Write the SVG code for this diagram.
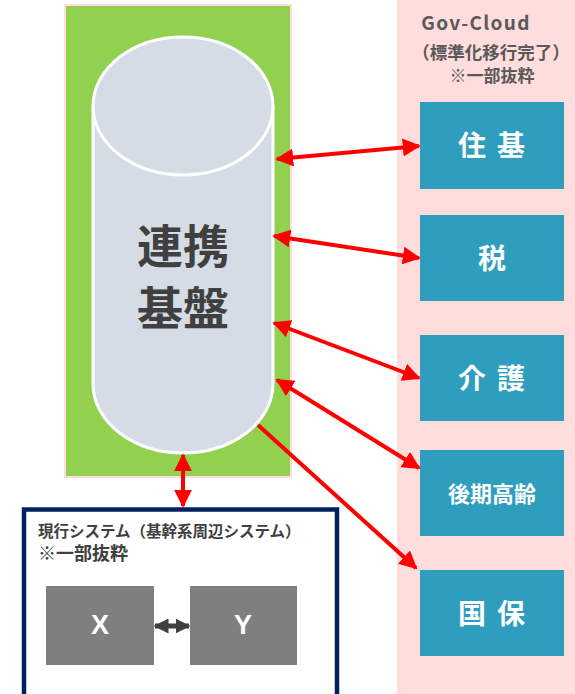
<svg xmlns="http://www.w3.org/2000/svg" width="575" height="694" viewBox="0 0 575 694">
<defs>
<style>
.jp{font-family:"Noto Sans CJK JP","Noto Sans CJK SC",sans-serif;font-weight:bold}
.box{fill:#2F9EBE}
.boxt{fill:#fff;font-size:28px;text-anchor:middle;dominant-baseline:central}
.red{stroke:#FF0000;stroke-width:4;fill:none}
.gray{fill:#7F7F7F}
</style>
<marker id="ah" viewBox="0 0 10 10" refX="9" refY="5" markerWidth="4.5" markerHeight="4.5" orient="auto-start-reverse" markerUnits="strokeWidth">
<path d="M0,0 L10,5 L0,10 z" fill="#FF0000"/>
</marker>
<marker id="ahg" viewBox="0 0 10 10" refX="9" refY="5" markerWidth="3" markerHeight="3" orient="auto-start-reverse" markerUnits="strokeWidth">
<path d="M0,0 L10,5 L0,10 z" fill="#404040"/>
</marker>
</defs>
<rect width="575" height="694" fill="#fff"/>
<g id="gov-cloud">
<rect x="397" y="0" width="178" height="694" fill="#FFDDDD"/>
<text class="jp" x="476" y="30" font-size="19" letter-spacing="1.3" fill="#595959" text-anchor="middle">Gov-Cloud</text>
<text class="jp" x="491" y="59" font-size="17.5" fill="#595959" text-anchor="middle">（標準化移行完了）</text>
<text class="jp" x="492" y="82" font-size="17" fill="#595959" text-anchor="middle">※一部抜粋</text>
</g>
<g id="renkei">
<rect x="65" y="5" width="226" height="472" fill="#92D050" stroke="#FFDDDD" stroke-width="2"/>
<path d="M93,106 L93,384 A90,69 0 0 0 273,384 L273,106" fill="#D6DCE5" stroke="#fff" stroke-width="3"/>
<ellipse cx="183" cy="106" rx="90" ry="69" fill="#D6DCE5" stroke="#fff" stroke-width="3"/>
<text class="jp" x="183" y="243" font-size="46" fill="#404040" text-anchor="middle" dominant-baseline="central">連携</text>
<text class="jp" x="183" y="305" font-size="46" fill="#404040" text-anchor="middle" dominant-baseline="central">基盤</text>
</g>
<g id="juki"><rect class="box" x="420" y="102" width="144" height="87"/><text class="jp boxt" x="472" y="144">住</text><text class="jp boxt" x="511" y="144">基</text></g>
<g id="zei"><rect class="box" x="420" y="215" width="144" height="86"/><text class="jp boxt" x="492" y="257">税</text></g>
<g id="kaigo"><rect class="box" x="420" y="335" width="144" height="86"/><text class="jp boxt" x="472" y="377">介</text><text class="jp boxt" x="511" y="377">護</text></g>
<g id="kouki"><rect class="box" x="420" y="450" width="144" height="86"/><text class="jp boxt" x="492" y="492" style="font-size:22px">後期高齢</text></g>
<g id="kokuho"><rect class="box" x="420" y="570" width="144" height="86"/><text class="jp boxt" x="472" y="612">国</text><text class="jp boxt" x="511" y="612">保</text></g>
<g id="current">
<rect x="24" y="509.5" width="313" height="200" fill="#fff" stroke="#002060" stroke-width="4.5"/>
<text class="jp" x="38" y="537" font-size="15.5" fill="#404040">現行システム（基幹系周辺システム）</text>
<text class="jp" x="38" y="560" font-size="18" fill="#404040">※一部抜粋</text>
</g>
<g id="x"><rect class="gray" x="46" y="586" width="108" height="79"/><text x="100" y="625" font-family="Liberation Sans,Arial,sans-serif" font-weight="bold" font-size="27" fill="#fff" text-anchor="middle" dominant-baseline="central">X</text></g>
<g id="y"><rect class="gray" x="190" y="586" width="107" height="79"/><text x="243" y="625" font-family="Liberation Sans,Arial,sans-serif" font-weight="bold" font-size="27" fill="#fff" text-anchor="middle" dominant-baseline="central">Y</text></g>
<g id="connectors">
<line class="red" x1="277" y1="159" x2="419" y2="146" marker-start="url(#ah)" marker-end="url(#ah)"/>
<line class="red" x1="274" y1="236" x2="419" y2="258" marker-start="url(#ah)" marker-end="url(#ah)"/>
<line class="red" x1="274" y1="323" x2="419" y2="378" marker-start="url(#ah)" marker-end="url(#ah)"/>
<line class="red" x1="277" y1="380" x2="419" y2="468" marker-start="url(#ah)" marker-end="url(#ah)"/>
<line class="red" x1="258" y1="425" x2="416" y2="568" marker-end="url(#ah)"/>
<line class="red" x1="183" y1="455" x2="183" y2="506" marker-start="url(#ah)" marker-end="url(#ah)"/>
<line x1="155" y1="626" x2="189" y2="626" stroke="#404040" stroke-width="5" marker-start="url(#ahg)" marker-end="url(#ahg)"/>
</g>
</svg>
